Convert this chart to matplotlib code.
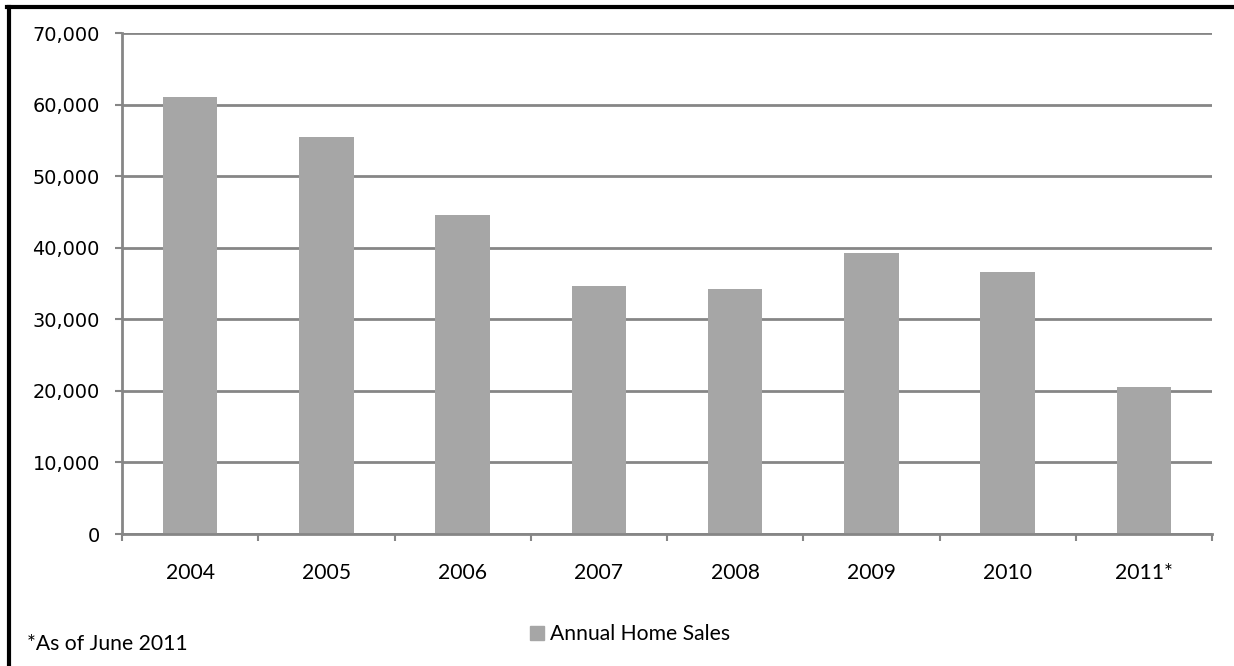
import matplotlib
matplotlib.use("Agg")
import matplotlib.pyplot as plt
import matplotlib.patches as mpatches
from matplotlib.ticker import FuncFormatter, MultipleLocator
import numpy as np

years = ["2004", "2005", "2006", "2007", "2008", "2009", "2010", "2011*"]
sales = [61000, 55400, 44600, 34700, 34300, 39200, 36600, 20500]

bar_color = "#A6A6A6"
grid_color = "#868686"
label_font = "Lato"
label_size = 15.2

fig = plt.figure(figsize=(12.34, 6.66), dpi=100)
ax = fig.add_axes([122 / 1234, 1 - 534 / 666, (1212 - 122) / 1234, (534 - 33) / 666])

x = np.arange(len(years))
ax.bar(x, sales, width=0.4, color=bar_color, zorder=2)

ax.set_xlim(-0.5, len(years) - 0.5)
ax.set_ylim(0, 70000)
ax.yaxis.set_major_locator(MultipleLocator(10000))
ax.yaxis.set_major_formatter(FuncFormatter(lambda v, p: f"{int(v):,}"))
ax.grid(axis="y", color=grid_color, linewidth=2, zorder=1)

# category labels between boundary ticks, like Excel
ax.set_xticks(np.arange(len(years) + 1) - 0.5)
ax.set_xticklabels([])
ax.set_xticks(x, minor=True)
ax.set_xticklabels(years, minor=True, fontfamily=label_font, fontsize=label_size)
ax.tick_params(axis="x", which="minor", length=0, pad=21)
ax.tick_params(axis="x", which="major", length=5, width=1.5, color=grid_color)
ax.tick_params(axis="y", length=5, width=1.5, color=grid_color, labelsize=13.9, pad=11)

for side in ["top", "right"]:
    ax.spines[side].set_visible(False)
for side in ["left", "bottom"]:
    ax.spines[side].set_color(grid_color)
    ax.spines[side].set_linewidth(2)

handle = mpatches.Patch(color=bar_color, label="Annual Home Sales")
fig.legend(handles=[handle], loc="center left", bbox_to_anchor=(511 / 1234, 1 - 634 / 666),
           frameon=False, handlelength=0.65, handleheight=0.65, handletextpad=0.3,
           prop={"family": label_font, "size": label_size})

fig.text(27 / 1234, 1 - 644 / 666, "*As of June 2011", fontfamily=label_font,
         fontsize=label_size, va="center", ha="left")

# chart border (only left and top edges are visible in the crop)
fig.add_artist(plt.Line2D([8.5 / 1234, 8.5 / 1234], [0, 1 - 7 / 666], color="black", linewidth=3,
                          transform=fig.transFigure))
fig.add_artist(plt.Line2D([7 / 1234, 1], [1 - 7 / 666, 1 - 7 / 666], color="black", linewidth=3,
                          transform=fig.transFigure))

fig.savefig("out.png", dpi=100, facecolor="white")
